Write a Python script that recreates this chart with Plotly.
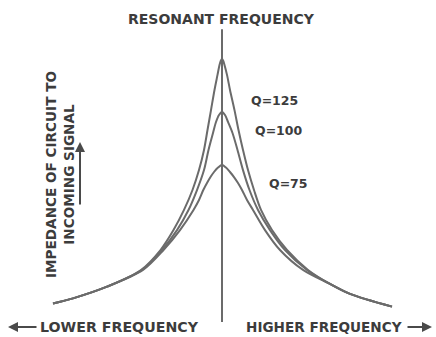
import plotly.graph_objects as go

# Frequency deviation from resonance (arbitrary units) and relative impedance for each Q
q125_f = [-169, -149, -115, -81, -61.5, -48.5, -38, -29.5, -23, -18, -14.5, -11, -7.5, -4.5, -2.5, -1.2, 0,
          1.2, 2.5, 5, 8, 12.5, 16.5, 21, 26, 32, 39, 50, 65, 86, 108, 128, 170]
q125_z = [9.7, 12.1, 17.6, 25.5, 34.9, 44.3, 53.8, 63.2, 72.6, 82.1, 91.5, 100.9, 110.4, 117.5, 122.2, 124.2, 125.0,
          124.2, 122.2, 117.5, 110.4, 100.9, 91.5, 82.1, 72.6, 63.2, 53.8, 44.3, 34.9, 25.5, 18.9, 14.2, 8.2]

q100_f = [-169, -149, -115, -80, -60, -45, -33.5, -25, -18, -13.5, -9, -6, -3, 0,
          3, 6, 10.5, 15.5, 21, 27.5, 36, 48, 63, 85, 108, 128, 170]
q100_z = [9.7, 12.1, 17.6, 25.5, 34.9, 44.3, 53.8, 63.2, 72.6, 82.1, 90.1, 95.3, 98.6, 100.0,
          98.6, 95.3, 90.1, 82.1, 72.6, 63.2, 53.8, 44.3, 34.9, 25.5, 18.9, 14.2, 8.2]

q75_f = [-169, -149, -115, -79, -58.5, -42, -28.5, -23, -18.7, -15, -11.5, -8, -4, 0,
         4, 8, 12, 16, 20, 25, 31, 43, 58, 81, 108, 128, 170]
q75_z = [9.7, 12.1, 17.6, 25.5, 34.9, 44.3, 53.8, 58.5, 63.2, 66.5, 69.3, 71.7, 73.8, 75.0,
         73.8, 71.7, 69.3, 66.5, 63.2, 58.5, 53.8, 44.3, 34.9, 25.5, 18.9, 14.2, 8.2]

q_labels = ["Q=125", "Q=100", "Q=75"]
resonant_f = 0.0
line_top = 139.0
line_bottom = 0.9

W, H = 436, 337
X0, XS = 222.0, 1.0     # pixel of resonance, pixels per frequency unit
Y0, YS = 324.0, 2.12    # pixel of zero impedance, pixels per impedance unit


def fx(px):
    return (px - X0) / XS


def fy(py):
    return (Y0 - py) / YS


curve_color = "#6b6b6b"
ink = "#3c3c3c"
font = "DejaVu Sans"

fig = go.Figure()
for f, z in [(q125_f, q125_z), (q100_f, q100_z), (q75_f, q75_z)]:
    fig.add_trace(go.Scatter(
        x=f, y=z, mode="lines",
        line=dict(color=curve_color, width=2, shape="spline", smoothing=0.9),
        hoverinfo="skip", showlegend=False,
    ))

# resonance marker line
fig.add_trace(go.Scatter(
    x=[resonant_f, resonant_f], y=[line_bottom, line_top], mode="lines",
    line=dict(color=curve_color, width=2), hoverinfo="skip", showlegend=False,
))

annotations = [
    dict(x=fx(221), y=fy(19), text="RESONANT FREQUENCY", font=dict(size=14)),
    dict(x=fx(274), y=fy(100), text=q_labels[0], font=dict(size=12.5)),
    dict(x=fx(278), y=fy(130), text=q_labels[1], font=dict(size=12.5)),
    dict(x=fx(288), y=fy(183), text=q_labels[2], font=dict(size=12.5)),
    dict(x=fx(60), y=fy(175), text="IMPEDANCE OF CIRCUIT TO<br>INCOMING SIGNAL",
         textangle=-90, font=dict(size=13.6)),
    dict(x=fx(119), y=fy(327), text="LOWER FREQUENCY", font=dict(size=14.2)),
    dict(x=fx(324), y=fy(327), text="HIGHER FREQUENCY", font=dict(size=13.6)),
]
for a in annotations:
    a.update(xref="x", yref="y", showarrow=False)
    a["font"].update(family=font, color=ink, weight="bold")

# direction arrows
arrows = [
    (fx(80), fy(142), fx(80), fy(206)),
    (fx(8), fy(327), fx(38), fy(327)),
    (fx(432), fy(327), fx(406), fy(327)),
]
for hx, hy, tx, ty in arrows:
    annotations.append(dict(
        x=hx, y=hy, ax=tx, ay=ty, xref="x", yref="y", axref="x", ayref="y",
        text="", showarrow=True, arrowhead=2, arrowsize=1.0, arrowwidth=2,
        arrowcolor="#4a4a4a",
    ))

fig.update_layout(
    width=W, height=H,
    margin=dict(l=0, r=0, t=0, b=0),
    paper_bgcolor="white", plot_bgcolor="white",
    xaxis=dict(range=[fx(0), fx(W)], visible=False, fixedrange=True),
    yaxis=dict(range=[fy(H), fy(0)], visible=False, fixedrange=True),
    annotations=annotations,
)

fig.write_html("out.html")
